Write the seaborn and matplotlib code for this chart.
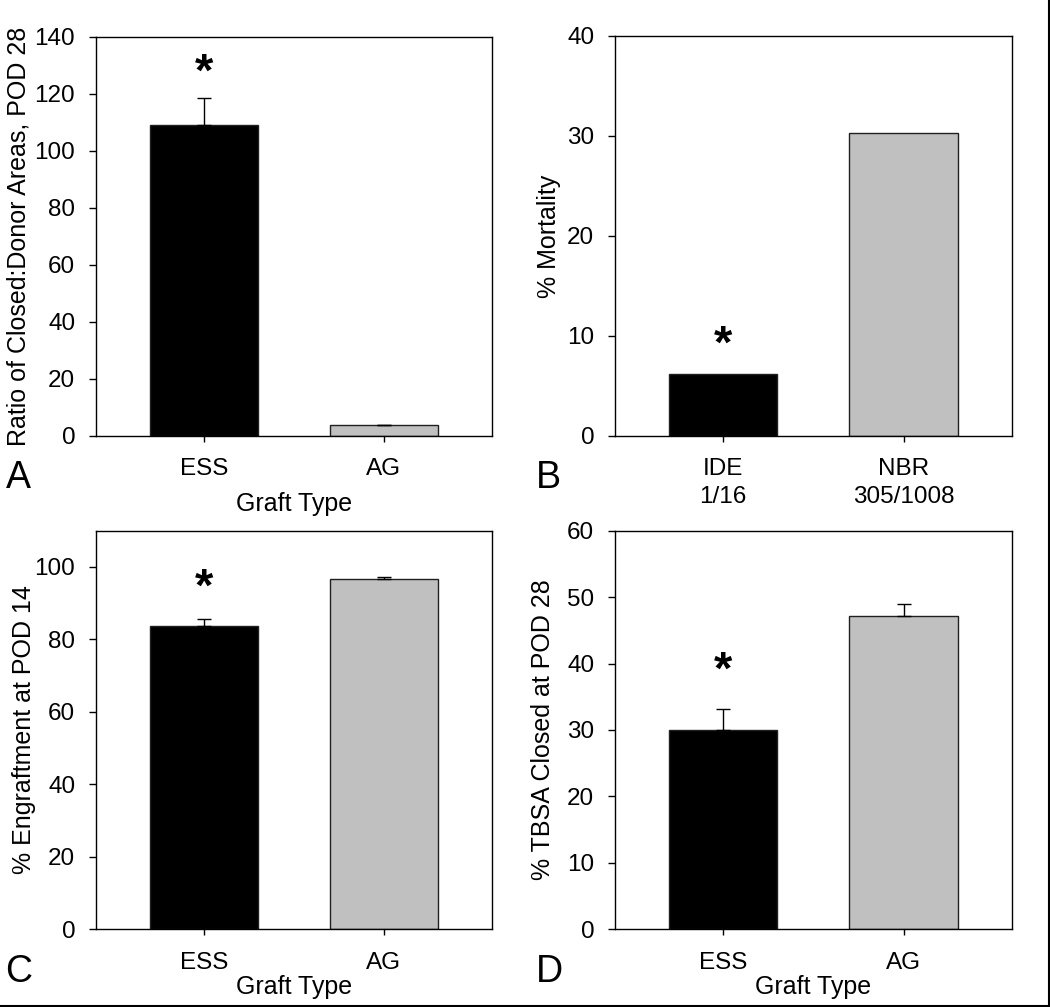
import matplotlib
matplotlib.use("Agg")
import matplotlib.pyplot as plt
from matplotlib.lines import Line2D
import numpy as np
import seaborn as sns

# panel A: ratio of closed:donor areas, POD 28
a_cats = ["ESS", "AG"]
a_vals = [109.0, 4.0]
a_err = [9.4, 0.0]
a_star = 127.0

# panel B: % mortality
b_cats = ["IDE\n1/16", "NBR\n305/1008"]
b_vals = [6.25, 30.26]
b_err = [0.0, 0.0]
b_star = 9.0

# panel C: % engraftment at POD 14
c_cats = ["ESS", "AG"]
c_vals = [83.6, 96.6]
c_err = [1.9, 0.6]
c_star = 94.0

# panel D: % TBSA closed at POD 28
d_cats = ["ESS", "AG"]
d_vals = [30.0, 47.1]
d_err = [3.2, 1.9]
d_star = 38.8

sns.set_style("ticks")
plt.rcParams['font.family'] = ['Liberation Sans', 'DejaVu Sans']
plt.rcParams['text.color'] = 'black'
plt.rcParams['axes.labelcolor'] = 'black'
plt.rcParams['xtick.color'] = 'black'
plt.rcParams['ytick.color'] = 'black'

fig = plt.figure(figsize=(10.5, 10.07), dpi=100)

W, H = 1050.0, 1007.0


def make_ax(left, top, right, bottom):
    return fig.add_axes([left / W, 1 - bottom / H, (right - left) / W, (bottom - top) / H])


colors = ["#000000", "#c0c0c0"]


def panel(ax, cats, vals, err, star, ymax, ystep, ylabel, xlabel, letter, letter_xy):
    sns.barplot(x=cats, y=vals, hue=cats, palette=colors, legend=False,
                width=0.6, edgecolor="#202020", linewidth=1.0, ax=ax)
    if any(e > 0 for e in err):
        ax.errorbar(range(len(cats)), vals, yerr=[np.zeros(len(err)), err],
                    fmt="none", ecolor="black", elinewidth=1.0, capsize=5, capthick=1.0)
    ax.text(0, star, "*", ha="center", va="center", fontsize=34, fontweight="bold")
    ax.set_xlim(-0.6, 1.6)
    ax.set_ylim(0, ymax)
    ax.set_yticks(np.arange(0, ymax + 0.1, ystep))
    ax.tick_params(axis="y", labelsize=17.5, length=5, width=1, direction="out", pad=10)
    ax.tick_params(axis="x", labelsize=17.5, length=4, width=1, direction="out", pad=12)
    for t in ax.get_xticklabels():
        t.set_linespacing(1.35)
    for s in ax.spines.values():
        s.set_linewidth(1.0)
        s.set_color("black")
    ax.set_ylabel(ylabel, fontsize=18)
    ax.set_xlabel(xlabel, fontsize=18)
    fig.text(letter_xy[0] / W, 1 - letter_xy[1] / H, letter, fontsize=27,
             ha="left", va="baseline")


axA = make_ax(96, 36.7, 492, 436)
panel(axA, a_cats, a_vals, a_err, a_star, 140, 20,
      "Ratio of Closed:Donor Areas, POD 28", "Graft Type", "A", (6, 488))
axA.yaxis.set_label_coords(-0.165, 0.5)
axA.xaxis.set_label_coords(0.5, -0.14)

axB = make_ax(615, 36, 1011.7, 436)
panel(axB, b_cats, b_vals, b_err, b_star, 40, 10,
      "% Mortality", "", "B", (536, 488))
axB.yaxis.set_label_coords(-0.135, 0.5)

axC = make_ax(96, 530.7, 492, 929.3)
panel(axC, c_cats, c_vals, c_err, c_star, 110, 20,
      "% Engraftment at POD 14", "Graft Type", "C", (5, 982))
axC.yaxis.set_label_coords(-0.152, 0.5)
axC.xaxis.set_label_coords(0.5, -0.115)

axD = make_ax(615, 530.7, 1011.7, 929.3)
panel(axD, d_cats, d_vals, d_err, d_star, 60, 10,
      "% TBSA Closed at POD 28", "Graft Type", "D", (536, 982))
axD.yaxis.set_label_coords(-0.152, 0.5)
axD.xaxis.set_label_coords(0.5, -0.115)

# thin frame on the right and bottom edges of the figure
fig.add_artist(Line2D([1 - 1.5 / W, 1 - 1.5 / W], [0, 1], color="black", lw=1.5))
fig.add_artist(Line2D([0, 1], [1.5 / H, 1.5 / H], color="black", lw=1.5))

fig.savefig("out.png", dpi=100, facecolor="white")
